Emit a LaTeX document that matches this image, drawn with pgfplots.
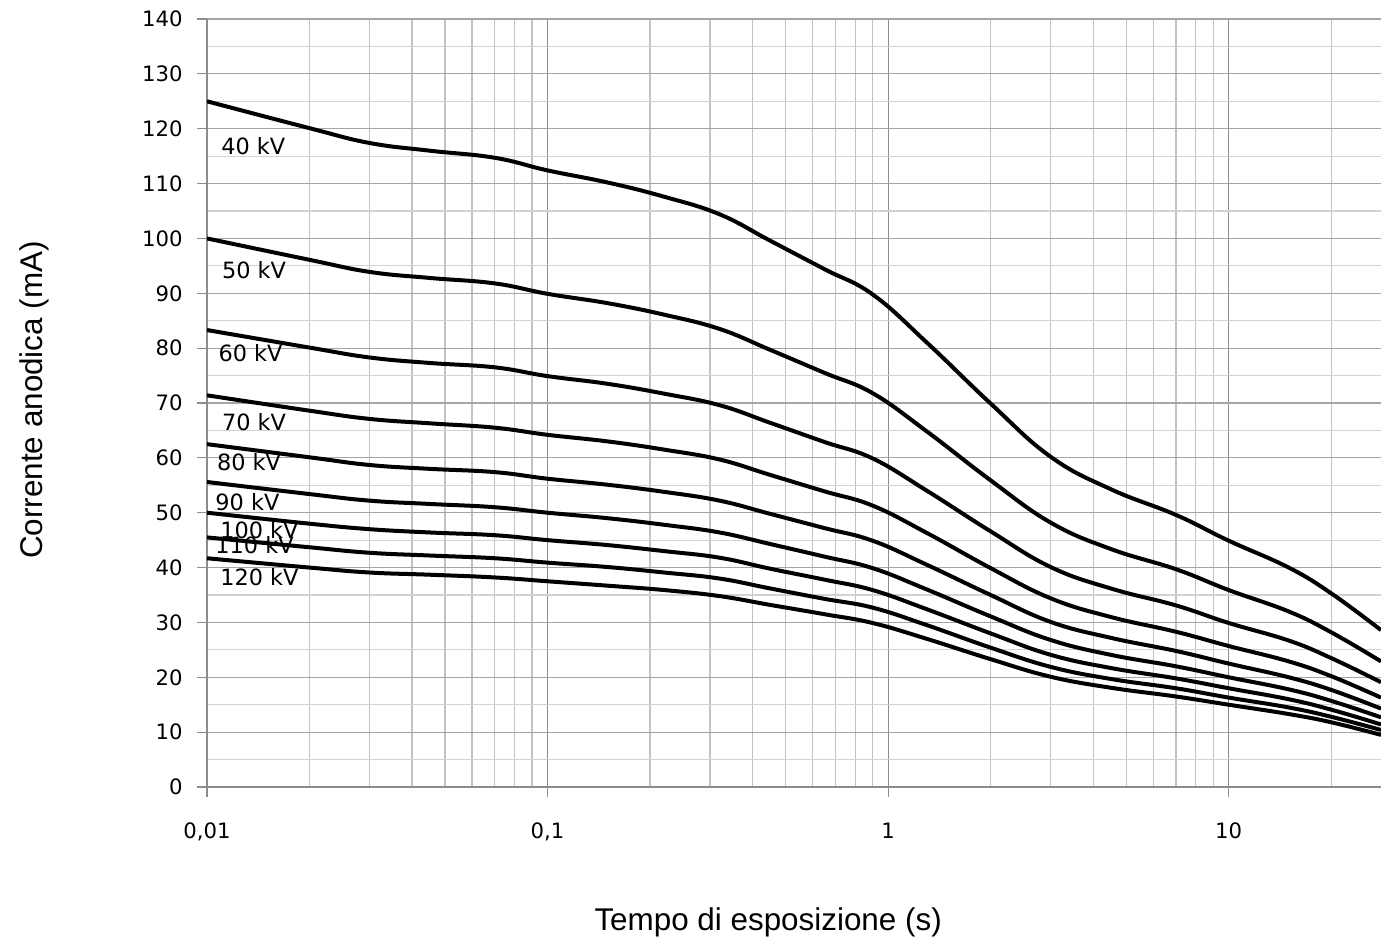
\documentclass[border=0pt]{standalone}
\usepackage{fontspec}
\setmainfont{DejaVu Sans}
\newfontfamily\lsans{Liberation Sans}
\usepackage{pgfplots}
\usepackage{pgfplotstable}
\pgfplotsset{compat=1.18}
\definecolor{gxmaj}{RGB}{140,140,140}
\definecolor{gxmin}{RGB}{195,195,195}
\definecolor{gymaj}{RGB}{165,165,165}
\definecolor{gymin}{RGB}{210,210,210}
\definecolor{gaxis}{RGB}{140,140,140}

\pgfplotstableread{
t v40 v50 v60 v70 v80 v90 v100 v110 v120
0.01 125.0 100.0 83.3 71.4 62.5 55.6 50.0 45.5 41.7
0.02 120.1 96.1 80.1 68.6 60.1 53.4 48.0 43.7 40.0
0.03 117.4 93.9 78.3 67.1 58.7 52.2 47.0 42.7 39.1
0.045 116.0 92.8 77.3 66.3 58.0 51.6 46.4 42.2 38.7
0.07 114.7 91.8 76.5 65.5 57.4 51.0 45.9 41.7 38.2
0.1 112.4 89.9 74.9 64.2 56.2 50.0 45.0 40.9 37.5
0.15 110.2 88.2 73.5 63.0 55.1 49.0 44.1 40.1 36.7
0.22 107.6 86.1 71.7 61.5 53.8 47.8 43.0 39.1 35.9
0.32 104.4 83.5 69.6 59.7 52.2 46.4 41.8 38.0 34.8
0.45 99.6 79.7 66.4 56.9 49.8 44.3 39.8 36.2 33.2
0.65 94.4 75.5 62.9 53.9 47.2 42.0 37.8 34.3 31.5
0.9 89.8 71.8 59.9 51.3 44.9 39.9 35.9 32.7 29.9
1.3 81.0 64.8 54.0 46.3 40.5 36.0 32.4 29.5 27.0
2 69.9 55.9 46.6 39.9 35.0 31.1 28.0 25.4 23.3
3 60.2 48.2 40.1 34.4 30.1 26.8 24.1 21.9 20.1
4.5 54.3 43.4 36.2 31.0 27.2 24.1 21.7 19.7 18.1
7 49.6 39.7 33.1 28.3 24.8 22.0 19.8 18.0 16.5
10 44.9 35.9 29.9 25.7 22.5 20.0 18.0 16.3 15.0
15 40.0 32.0 26.7 22.9 20.0 17.8 16.0 14.5 13.3
20 35.3 28.2 23.5 20.2 17.7 15.7 14.1 12.8 11.8
28 28.6 22.9 19.1 16.3 14.3 12.7 11.4 10.4 9.5
}\datatable

\begin{document}
\begin{tikzpicture}
\begin{axis}[
  at={(0,0)}, anchor=south west,
  scale only axis, width=587pt, height=384pt,
  xmode=log, log basis x=10,
  xmin=0.01, xmax=28, ymin=0, ymax=140,
  xtick={0.01,0.1,1,10},
  xticklabels={{0,01},{0,1},{1},{10}},
  minor xtick={0.02,0.03,0.04,0.05,0.06,0.07,0.08,0.09,0.2,0.3,0.4,0.5,0.6,0.7,0.8,0.9,2,3,4,5,6,7,8,9,20},
  ytick={0,10,...,140},
  minor ytick={5,15,...,135},
  grid=both,
  major x grid style={color=gxmaj, line width=0.6pt},
  minor x grid style={color=gxmin, line width=0.6pt},
  major y grid style={color=gymaj, line width=0.6pt},
  minor y grid style={color=gymin, line width=0.6pt},
  axis x line*=bottom, axis y line*=left,
  axis line style={color=gaxis, line width=0.6pt},
  tick style={color=gaxis, line width=0.6pt},
  major tick length=5pt, minor tick length=0pt,
  tick align=outside,
  /pgf/number format/assume math mode=true,
  yticklabel style={font=\fontsize{10.6}{12}\selectfont, anchor=east, inner sep=0pt, xshift=-7pt},
  xticklabel style={font=\fontsize{10.6}{12}\selectfont, anchor=base, inner sep=0pt, yshift=-20.5pt},
  xlabel={Tempo di esposizione (s)},
  ylabel={Corrente anodica (mA)},
  xlabel style={at={(axis description cs:0.478,-0.1862)}, anchor=base, inner sep=0pt, font=\lsans\fontsize{15.7}{18}\selectfont},
  ylabel style={at={(axis description cs:-0.1397,0.504)}, anchor=base, inner sep=0pt, font=\lsans\fontsize{15.7}{18}\selectfont},
  clip=true,
  curve/.style={black, line width=2pt, smooth, tension=0.7, no marks, line join=round},
]
\begin{scope}[every node/.style={anchor=west, inner sep=0pt, font=\fontsize{11.2}{13}\selectfont}]
\node at (axis cs:0.01099,116.9) {40 kV};
\node at (axis cs:0.01105,94.2) {50 kV};
\node at (axis cs:0.01079,79.0) {60 kV};
\node at (axis cs:0.01105,66.6) {70 kV};
\node at (axis cs:0.01068,59.3) {80 kV};
\node at (axis cs:0.01056,51.9) {90 kV};
\node at (axis cs:0.01092,46.8) {100 kV};
\node at (axis cs:0.01056,44.1) {110 kV};
\node at (axis cs:0.01092,38.3) {120 kV};
\end{scope}
\addplot[curve] table[x=t, y=v40] {\datatable};
\addplot[curve] table[x=t, y=v50] {\datatable};
\addplot[curve] table[x=t, y=v60] {\datatable};
\addplot[curve] table[x=t, y=v70] {\datatable};
\addplot[curve] table[x=t, y=v80] {\datatable};
\addplot[curve] table[x=t, y=v90] {\datatable};
\addplot[curve] table[x=t, y=v100] {\datatable};
\addplot[curve] table[x=t, y=v110] {\datatable};
\addplot[curve] table[x=t, y=v120] {\datatable};
\end{axis}
\pgfresetboundingbox
\path (-103.5pt,-75pt) rectangle (587pt,393.5pt);
\end{tikzpicture}
\end{document}
